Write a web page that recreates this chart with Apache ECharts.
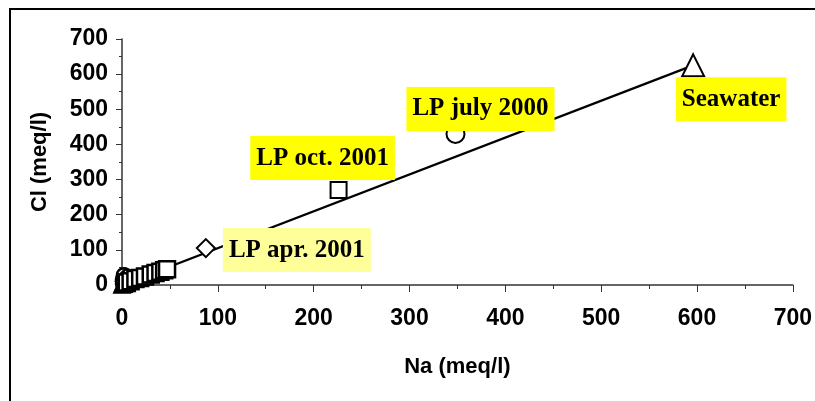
<!DOCTYPE html>
<html>
<head>
<meta charset="utf-8">
<script src="https://cdn.jsdelivr.net/npm/echarts@6/dist/echarts.min.js"></script>
<style>html,body{margin:0;padding:0;background:#fff}#c{width:815px;height:401px}</style>
</head>
<body>
<div id="c"></div>
<script>
// ---- data (Na, Cl in meq/l) ----
var axisTicks = [0, 100, 200, 300, 400, 500, 600, 700];
var mixLineNa = [0, 596];
var mixLineCl = [0, 625];
var clusterSquareNa = [5, 9, 14, 19, 24, 30, 35, 40, 44, 47];
var clusterSquareCl = [7, 11, 17, 20, 24, 30, 34, 38, 42, 45];
var clusterTriangleNa = [0, 2, 1, 3, 5];
var clusterTriangleCl = [0, 2, 6, 10, 4];
var clusterCircleNa = [1, 2, 3, 4, 1, 3, 5, 2, 6];
var clusterCircleCl = [4, 7, 10, 13, 16, 20, 24, 28, 8];
var clusterDiamondNa = [2, 5, 6, 8, 4, 1];
var clusterDiamondCl = [3, 9, 15, 19, 26, 11];
var seawater = { name: 'Seawater', na: 596, cl: 625 };
var lpJuly2000 = { name: 'LP july 2000', na: 348, cl: 430 };
var lpOct2001 = { name: 'LP oct. 2001', na: 226, cl: 270 };
var lpApr2001 = { name: 'LP apr. 2001', na: 87.5, cl: 105 };

function zip(a, b) { return a.map(function (v, i) { return [v, b[i]]; }); }

var chart = echarts.init(document.getElementById('c'));
var labelBase = {
  show: true, position: 'inside', color: '#000',
  fontFamily: '"Liberation Serif", "Times New Roman", serif',
  fontWeight: 'bold', fontSize: 25, lineHeight: 24, padding: [10, 6]
};
var mk = { color: '#fff', borderColor: '#000', borderWidth: 2, opacity: 1 };
var mkC = { color: '#fff', borderColor: '#000', borderWidth: 2.5, opacity: 1 };
function lbl(text, bg, off) {
  return Object.assign({}, labelBase, { formatter: text, backgroundColor: bg, offset: off });
}
var axisFont = { fontFamily: '"Liberation Sans", Arial, sans-serif', fontWeight: 'bold', fontSize: 23, color: '#000' };
var emph = { disabled: true };

chart.setOption({
  animation: false,
  backgroundColor: '#fff',
  grid: { left: 122, right: 21, top: 39, bottom: 116 },
  xAxis: {
    type: 'value', min: 0, max: 700, interval: 100,
    name: 'Na (meq/l)', nameLocation: 'middle', nameGap: 71,
    nameTextStyle: { fontFamily: '"Liberation Sans", Arial, sans-serif', fontWeight: 'bold', fontSize: 22, color: '#000' },
    axisLine: { lineStyle: { color: '#333', width: 1.5 } },
    axisTick: { show: true, inside: false, length: 7, lineStyle: { color: '#333' } },
    minorTick: { show: true, splitNumber: 2, length: 4, lineStyle: { color: '#333' } },
    splitLine: { show: false },
    axisLabel: Object.assign({ margin: 22, formatter: function (v) { return axisTicks.indexOf(v) >= 0 ? String(v) : ''; } }, axisFont)
  },
  yAxis: {
    type: 'value', min: 0, max: 700, interval: 100,
    name: 'Cl (meq/l)', nameLocation: 'middle', nameGap: 71,
    nameTextStyle: { fontFamily: '"Liberation Sans", Arial, sans-serif', fontWeight: 'bold', fontSize: 22, color: '#000' },
    axisLine: { show: true, lineStyle: { color: '#333', width: 1.5 } },
    axisTick: { show: true, inside: false, length: 6, lineStyle: { color: '#333' } },
    minorTick: { show: true, splitNumber: 2, length: 3, lineStyle: { color: '#333' } },
    splitLine: { show: false },
    axisLabel: Object.assign({ margin: 14 }, axisFont)
  },
  graphic: [{
    type: 'polyline', silent: true, z: 100,
    shape: { points: [[10, 401], [10, 9], [815, 9]] },
    style: { stroke: '#000', lineWidth: 2, fill: null }
  }],
  series: [
    { type: 'line', data: zip(mixLineNa, mixLineCl), showSymbol: false, symbol: 'none',
      lineStyle: { color: '#000', width: 2.2 }, z: 1, emphasis: emph },
    { type: 'scatter', clip: false, symbol: 'circle', symbolSize: 14, itemStyle: mkC, z: 3, emphasis: emph,
      data: zip(clusterCircleNa, clusterCircleCl) },
    { type: 'scatter', clip: false, symbol: 'diamond', symbolSize: 14, itemStyle: mkC, z: 3, emphasis: emph,
      data: zip(clusterDiamondNa, clusterDiamondCl) },
    { type: 'scatter', clip: false, symbol: 'triangle', symbolSize: 15, itemStyle: mkC, z: 3, emphasis: emph,
      data: zip(clusterTriangleNa, clusterTriangleCl) },
    { type: 'scatter', clip: false, symbol: 'rect', symbolSize: 16, itemStyle: mkC, z: 3, emphasis: emph,
      data: zip(clusterSquareNa, clusterSquareCl) },
    { type: 'scatter', clip: false, symbol: 'diamond', symbolSize: 18, itemStyle: mk, z: 4, emphasis: emph,
      data: [{ value: [lpApr2001.na, lpApr2001.cl], label: lbl(lpApr2001.name, '#ffff99', [91, 2]) }] },
    { type: 'scatter', clip: false, symbol: 'rect', symbolSize: 16, itemStyle: mk, z: 4, emphasis: emph,
      data: [{ value: [lpOct2001.na, lpOct2001.cl], label: lbl(lpOct2001.name, '#ffff00', [-16, -32]) }] },
    { type: 'scatter', clip: false, symbol: 'circle', symbolSize: 18, itemStyle: mk, z: 4, emphasis: emph,
      data: [{ value: [lpJuly2000.na, lpJuly2000.cl], label: lbl(lpJuly2000.name, '#ffff00', [25, -25]) }] },
    { type: 'scatter', clip: false, symbol: 'triangle', symbolSize: 22, itemStyle: mk, z: 4, emphasis: emph,
      data: [{ value: [seawater.na, seawater.cl], label: lbl(seawater.name, '#ffff00', [38, 34]) }] }
  ]
});
</script>
</body>
</html>
